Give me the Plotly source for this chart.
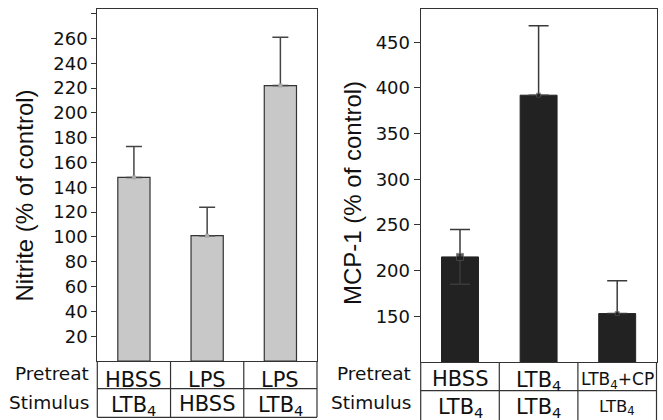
import plotly.graph_objects as go

# ---- data ----
nitrite_cats = ["c1", "c2", "c3"]
nitrite_vals = [148, 101, 222]
nitrite_err_up = [25, 23, 39]
nitrite_pretreat = ["HBSS", "LPS", "LPS"]
nitrite_stimulus = ["LTB<sub>4</sub>", "HBSS", "LTB<sub>4</sub>"]
nitrite_ticks = [20, 40, 60, 80, 100, 120, 140, 160, 180, 200, 220, 240, 260, 280]
nitrite_ticktext = ["20", "40", "60", "80", "100", "120", "140", "160", "180", "200", "220", "240", "260", ""]

mcp_cats = ["d1", "d2", "d3"]
mcp_vals = [215, 392, 153]
mcp_err_up = [30, 76, 36]
mcp_err_down = [30, 0, 0]
mcp_pretreat = ["HBSS", "LTB<sub>4</sub>", "LTB<sub>4</sub>+CP"]
mcp_stimulus = ["LTB<sub>4</sub>", "LTB<sub>4</sub>", "LTB<sub>4</sub>"]
mcp_ticks = [150, 200, 250, 300, 350, 400, 450]
mcp_ticktext = ["150", "200", "250", "300", "350", "400", "450"]

row_labels = ["Pretreat", "Stimulus"]

W, H = 663, 420
LINE = "#333333"
TXT = "#111111"
FAM = "DejaVu Sans"
TICKFONT = dict(family=FAM, size=18, color=TXT)

fig = go.Figure()

fig.add_trace(go.Bar(x=nitrite_cats, y=nitrite_vals, width=0.44,
                     marker=dict(color="#c8c8c8", line=dict(color=LINE, width=1.2)),
                     xaxis="x", yaxis="y", showlegend=False))
fig.add_trace(go.Scatter(x=nitrite_cats, y=nitrite_vals, mode="markers",
                         marker=dict(symbol="square", size=4, color="#aaaaaa"),
                         error_y=dict(type="data", symmetric=False, array=nitrite_err_up,
                                      arrayminus=[0, 0, 0], color="#444444", thickness=1.5, width=8),
                         xaxis="x", yaxis="y", showlegend=False))

fig.add_trace(go.Bar(x=mcp_cats, y=mcp_vals, width=0.47,
                     marker=dict(color="#222222", line=dict(color="#222222", width=1)),
                     xaxis="x2", yaxis="y2", showlegend=False))
fig.add_trace(go.Scatter(x=mcp_cats, y=mcp_vals, mode="markers",
                         marker=dict(symbol="square", size=[7, 4, 4], color="#1a1a1a",
                                     line=dict(color="#555555", width=1)),
                         error_y=dict(type="data", symmetric=False, array=mcp_err_up,
                                      arrayminus=mcp_err_down, color="#3a3a3a", thickness=1.5, width=10),
                         xaxis="x2", yaxis="y2", showlegend=False))

# domains
lx0, lx1 = 97.3 / W, 317 / W
rx0, rx1 = 420.7 / W, 656.5 / W
ly0, ly1 = (H - 361) / H, (H - 9.3) / H
ry0, ry1 = (H - 362) / H, (H - 9.3) / H

axcommon = dict(showline=True, linecolor=LINE, linewidth=1.2, mirror=True, showgrid=False, zeroline=False)

fig.update_layout(
    width=W, height=H, margin=dict(l=0, r=0, t=0, b=0),
    paper_bgcolor="white", plot_bgcolor="white",
    xaxis=dict(domain=[lx0, lx1], anchor="y", range=[-0.5, 2.5], showticklabels=False, ticks="", **axcommon),
    yaxis=dict(domain=[ly0, ly1], anchor="x", range=[0, 283.5], tickvals=nitrite_ticks, ticktext=nitrite_ticktext,
               ticks="outside", ticklen=5, tickcolor=LINE, tickwidth=1.2, tickfont=TICKFONT, **axcommon),
    xaxis2=dict(domain=[rx0, rx1], anchor="y2", range=[-0.5, 2.5], showticklabels=False, ticks="", **axcommon),
    yaxis2=dict(domain=[ry0, ry1], anchor="x2", range=[100, 486], tickvals=mcp_ticks, ticktext=mcp_ticktext,
                ticks="outside", ticklen=6, tickcolor=LINE, tickwidth=1.2, tickfont=TICKFONT, **axcommon),
)

shapes = []
annotations = []


def py(pix):
    return (H - pix) / H


def table(xref, top, mid, bot, pre, stim, pre_sizes, stim_sizes, label_right,
          lab_y, row1_y, row2_y, cats):
    for yy in (mid, bot):
        shapes.append(dict(type="line", xref=xref + " domain", yref="paper", x0=0, x1=1,
                           y0=py(yy), y1=py(yy), line=dict(color=LINE, width=1.2)))
    for xx in (0, 1 / 3, 2 / 3, 1):
        shapes.append(dict(type="line", xref=xref + " domain", yref="paper", x0=xx, x1=xx,
                           y0=py(top), y1=py(bot), line=dict(color=LINE, width=1.2)))
    for i, c in enumerate(cats):
        for texts, sizes, yc in ((pre, pre_sizes, row1_y), (stim, stim_sizes, row2_y)):
            t = texts[i]
            yy = yc + (2.0 if "<sub>" in t else 0.0)
            annotations.append(dict(x=c, y=py(yy), xref=xref, yref="paper", text=t, showarrow=False,
                                    font=dict(family=FAM, size=sizes[i], color=TXT),
                                    xanchor="center", yanchor="middle"))
    for lab, yy in zip(row_labels, lab_y):
        annotations.append(dict(x=label_right, y=py(yy), xref="paper", yref="paper", text=lab,
                                showarrow=False, font=dict(family=FAM, size=18.5, color=TXT),
                                xanchor="right", yanchor="middle"))


table("x", 361, 388.7, 417.3, nitrite_pretreat, nitrite_stimulus, [21, 21, 21], [21, 21, 21],
      91 / W, (373.5, 402), 379.5, 403.5, nitrite_cats)
table("x2", 362, 390.7, 430, mcp_pretreat, mcp_stimulus, [21, 21, 17], [21, 21, 16.5],
      413 / W, (373.7, 402), 378.8, 405.5, mcp_cats)

annotations.append(dict(x=24 / W, y=py(195.5), xref="paper", yref="paper", text="Nitrite (% of control)",
                        textangle=-90, showarrow=False, font=dict(family="Liberation Sans", size=24, color=TXT),
                        xanchor="center", yanchor="middle"))
annotations.append(dict(x=352 / W, y=py(193), xref="paper", yref="paper", text="MCP-1 (% of control)",
                        textangle=-90, showarrow=False, font=dict(family="Liberation Sans", size=24, color=TXT),
                        xanchor="center", yanchor="middle"))

fig.update_layout(shapes=shapes, annotations=annotations)
fig.write_html("out.html")
